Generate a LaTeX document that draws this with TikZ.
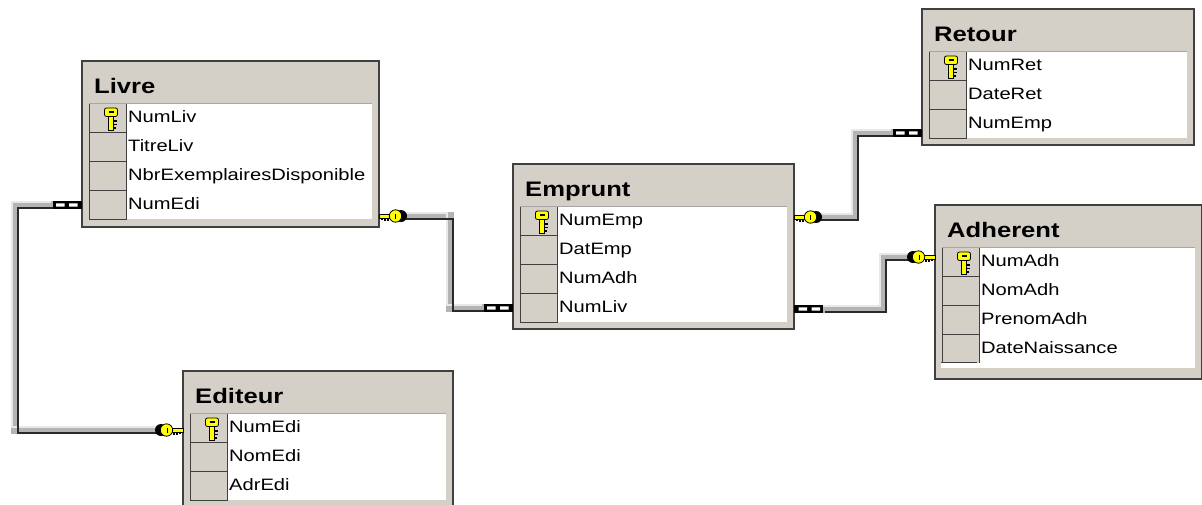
\documentclass[tikz,border=0pt]{standalone}
\usepackage{fontspec}
\setmainfont{Liberation Sans}[FakeStretch=1.22]
\definecolor{panel}{HTML}{D4D0C8}
\definecolor{edge}{HTML}{404040}
\definecolor{keyyel}{HTML}{FFFF00}
\definecolor{pipemid}{HTML}{B4B4B4}
\definecolor{pipelight}{HTML}{E8E8E8}
\definecolor{pipedark}{HTML}{2A2A2A}
\tikzset{
  tablebox/.style={draw=edge, fill=panel, line width=1.3pt, anchor=north west, inner sep=0pt, outer sep=0pt},
  titletext/.style={anchor=base west, inner sep=0pt, font=\fontsize{21}{24}\selectfont\bfseries},
  fieldtext/.style={anchor=base west, inner sep=0pt, font=\fontsize{16.5}{19}\selectfont},
  keycell/.style={fill=panel, draw=edge, line width=0.9pt},
  keyfill/.style={fill=keyyel, draw=black, line width=0.8pt},
  pipebase/.style={line width=7.5pt, color=pipemid},
  pipehi/.style={line width=1.8pt, color=pipelight},
  pipelo/.style={line width=1.8pt, color=pipedark},
}
\newcommand\keyicon[2]{%
  \begin{scope}[shift={(#1,#2)}]
    \filldraw[keyfill] (-2.5,12) rectangle (2.5,27);
    \draw[black, line width=1.2pt] (2.5,18)--(6,18) (2.5,21.5)--(6,21.5) (2.5,25)--(5,25);
    \filldraw[keyfill, rounded corners=2pt] (-6.5,5) rectangle (6.5,13.5);
    \fill[black] (-2.5,8) rectangle (2.5,10);
  \end{scope}}
\newcommand\keyend[3]{%
  \begin{scope}[shift={(#1,#2)}, xscale=#3]
    \filldraw[keyfill] (-15,-2) rectangle (0,2);
    \draw[line width=1.2pt] (-9,2)--(-9,4.5) (-6,2)--(-6,4.5) (-3,2)--(-3,4);
    \fill[black] (-22,0) circle (6pt);
    \filldraw[keyfill] (-16.5,0) circle (6.2pt);
    \fill[black] (-16.5,-2.5) rectangle (-15.5,2.5);
  \end{scope}}
\newcommand\chainend[3]{%
  \begin{scope}[shift={(#1,#2)}, xscale=#3]
    \fill[black] (-29,-4) rectangle (0,4);
    \fill[white] (-26,-1.6) rectangle (-17.5,1.6) (-13,-1.6) rectangle (-4.5,1.6);
  \end{scope}}
\newcommand\pipe[1]{%
  \draw[pipebase] #1;
  \draw[pipehi, transform canvas={shift={(-2.8pt,2.8pt)}}] #1;
  \draw[pipelo, transform canvas={shift={(2.8pt,-2.8pt)}}] #1;}
\newcommand\dbtable[7]{%
  \pgfmathsetmacro\tw{#4-#2}\pgfmathsetmacro\th{#5-#3}%
  \node[tablebox, minimum width=\tw pt, minimum height=\th pt] (#1) at (#2,#3) {};
  \node[titletext] (#1-t) at (#2+12,#3+32) {#6};
  \foreach \f [count=\i] in {#7} {
    \pgfmathsetmacro\rt{#3+42+(\i-1)*29}
    \fill[white] (#2+44,\rt) rectangle (#4-7,\rt+29);
    \filldraw[keycell] (#2+7,\rt) rectangle (#2+44,\rt+29);
    \node[fieldtext] (#1-\i) at (#2+46,\rt+19) {\f};
    \ifnum\i=1 \keyicon{#2+29}{\rt}\fi
  }
  \draw[gray!70, line width=0.8pt] (#2+7,#3+42) -- (#4-7,#3+42);
}
\begin{document}
\begin{tikzpicture}[x=1pt, y=-1pt]
\useasboundingbox (0,0) rectangle (1202,504);
\fill[white] (0,0) rectangle (1202,504);

\dbtable{livre}{82}{61}{379}{227}{Livre}{NumLiv,TitreLiv,NbrExemplairesDisponible,NumEdi}
\dbtable{emprunt}{513}{164}{794}{329}{Emprunt}{NumEmp,DatEmp,NumAdh,NumLiv}
\dbtable{retour}{922}{9}{1194}{145}{Retour}{NumRet,DateRet,NumEmp}
\dbtable{adherent}{935}{205}{1201.5}{379}{Adherent}{NumAdh,NomAdh,PrenomAdh,DateNaissance}
\fill[white] (941,363) rectangle (1195,368);
\draw[edge, line width=0.8pt] (941,362) -- (977,362);
\dbtable{editeur}{183}{371}{453}{512}{Editeur}{NumEdi,NomEdi,AdrEdi}

\coordinate (p1s) at (54,205);  \coordinate (p1e) at (159,430);
\coordinate (p2s) at (403,216); \coordinate (p2e) at (485,308);
\coordinate (p3s) at (818,217); \coordinate (p3e) at (894,133);
\coordinate (p4s) at (822,309); \coordinate (p4e) at (911,257);

\pipe{(p1s) -| (15,318) |- (p1e)}
\pipe{(p2s) -| (450,260) |- (p2e)}
\pipe{(p3s) -| (855,170) |- (p3e)}
\pipe{(p4s) -| (883,280) |- (p4e)}

\chainend{82}{205}{1}
\keyend{183}{430}{1}
\keyend{379}{216}{-1}
\chainend{513}{308}{1}
\keyend{794}{217}{-1}
\chainend{922}{133}{1}
\chainend{794}{309}{-1}
\keyend{935}{257}{1}
\end{tikzpicture}
\end{document}
